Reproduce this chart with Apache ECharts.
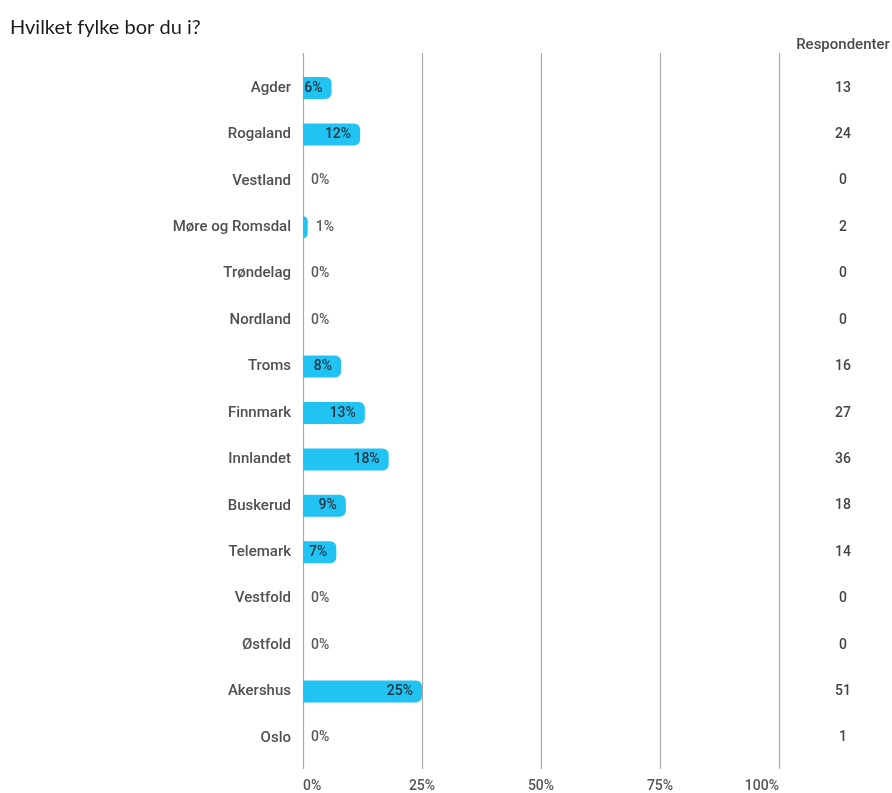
<!DOCTYPE html>
<html>
<head>
<meta charset="utf-8">
<script src="https://cdn.jsdelivr.net/npm/echarts@6/dist/echarts.min.js"></script>
<style>
  html, body { margin: 0; padding: 0; background: #fff; }
  #chart { width: 892px; height: 793px; }
</style>
</head>
<body>
<div id="chart"></div>
<script>
// Survey: which county do you live in?
const counties = ['Agder', 'Rogaland', 'Vestland', 'Møre og Romsdal', 'Trøndelag', 'Nordland',
  'Troms', 'Finnmark', 'Innlandet', 'Buskerud', 'Telemark', 'Vestfold', 'Østfold', 'Akershus', 'Oslo'];
const percentShare = [6, 12, 0, 1, 0, 0, 8, 13, 18, 9, 7, 0, 0, 25, 0];
const respondents = [13, 24, 0, 2, 0, 0, 16, 27, 36, 18, 14, 0, 0, 51, 1];
const percentTicks = [0, 25, 50, 75, 100];

const FONT = 'Roboto, "Noto Sans", sans-serif';
const BAR_COLOR = '#21c3f3';

// Labels sit inside the bar when there is room, otherwise just past its end
const barData = percentShare.map(v => ({
  value: v,
  label: v >= 5
    ? { position: 'insideRight', distance: 9, color: '#1d3340' }
    : { position: 'right', distance: 8, color: '#5a5a5a' }
}));

const chart = echarts.init(document.getElementById('chart'), null, { renderer: 'canvas' });

chart.setOption({
  animation: false,
  title: {
    text: 'Hvilket fylke bor du i?',
    left: 5, top: 13,
    textStyle: { fontFamily: 'Lato, "Open Sans", sans-serif', fontSize: 20, fontWeight: 'normal', color: '#1b1b1b' }
  },
  graphic: [{
    type: 'text', x: 843, y: 45,
    style: { text: 'Respondenter', font: '500 15px ' + FONT, fill: '#4a4a4a', align: 'center', verticalAlign: 'middle' }
  }],
  grid: [
    // bars
    { left: 303, right: 113, top: 64.8, height: 696.4 },
    // vertical reference lines and percent ticks
    { left: 303, right: 113, top: 53, bottom: 23 }
  ],
  xAxis: [
    {
      type: 'value', gridIndex: 0, min: 0, max: 100,
      show: false
    },
    {
      type: 'value', gridIndex: 1, min: 0, max: 100, interval: 25,
      axisLine: { show: false }, axisTick: { show: false },
      splitLine: { show: true, lineStyle: { color: '#aaa', width: 1.2 } },
      axisLabel: {
        formatter: v => percentTicks.includes(v) ? v + '%' : '',
        alignMinLabel: 'left', alignMaxLabel: 'right',
        fontFamily: FONT, fontSize: 14, fontWeight: 500, color: '#555', margin: 10
      }
    }
  ],
  yAxis: [
    {
      type: 'category', gridIndex: 0, data: counties, inverse: true,
      axisLine: { show: false }, axisTick: { show: false }, splitLine: { show: false },
      axisLabel: { fontFamily: FONT, fontSize: 15, fontWeight: 500, color: '#505050', margin: 12 }
    },
    {
      type: 'category', gridIndex: 0, data: respondents.map(String), inverse: true,
      position: 'right',
      axisLine: { show: false }, axisTick: { show: false }, splitLine: { show: false },
      axisLabel: { fontFamily: FONT, fontSize: 14, fontWeight: 500, color: '#444', align: 'center', margin: 64 }
    },
    {
      type: 'value', gridIndex: 1, show: false
    }
  ],
  series: [{
    type: 'bar',
    xAxisIndex: 0, yAxisIndex: 0,
    data: barData,
    barWidth: 22,
    itemStyle: { color: BAR_COLOR, borderRadius: [0, 6, 6, 0] },
    label: {
      show: true,
      formatter: p => p.value + '%',
      fontFamily: FONT, fontSize: 14, fontWeight: 500
    }
  }]
});
</script>
</body>
</html>
